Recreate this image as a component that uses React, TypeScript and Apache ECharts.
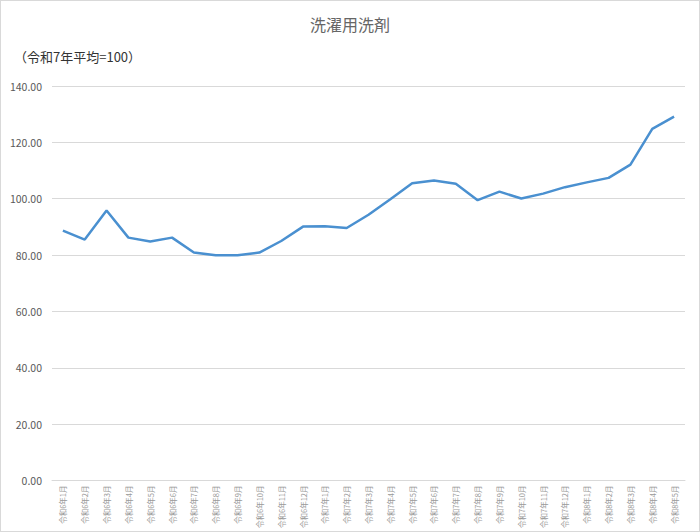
import React from 'react';
import * as echarts from 'echarts';

const TITLE = '洗濯用洗剤';
const UNIT_NOTE = '（令和7年平均=100）';

const categories: string[] = [
  '令和6年1月', '令和6年2月', '令和6年3月', '令和6年4月', '令和6年5月', '令和6年6月',
  '令和6年7月', '令和6年8月', '令和6年9月', '令和6年10月', '令和6年11月', '令和6年12月',
  '令和7年1月', '令和7年2月', '令和7年3月', '令和7年4月', '令和7年5月', '令和7年6月',
  '令和7年7月', '令和7年8月', '令和7年9月', '令和7年10月', '令和7年11月', '令和7年12月',
  '令和8年1月', '令和8年2月', '令和8年3月', '令和8年4月', '令和8年5月',
];

const indexValues: number[] = [
  88.7, 85.5, 95.8, 86.2, 84.8, 86.2,
  80.9, 79.9, 79.9, 80.9, 85.0, 90.1,
  90.2, 89.6, 94.3, 99.8, 105.5, 106.5,
  105.3, 99.5, 102.5, 100.1, 101.8, 104.1,
  105.8, 107.4, 112.1, 124.8, 129.1,
];

const yMin = 0;
const yMax = 140;
const yStep = 20;

const FONT = '"Noto Sans CJK JP", "Noto Sans", sans-serif';

export default function App() {
  const chartRef = React.useRef<HTMLDivElement>(null);

  React.useEffect(() => {
    if (!chartRef.current) return;
    const chart = echarts.init(chartRef.current, undefined, { renderer: 'svg' });

    chart.setOption({
      animation: false,
      textStyle: { fontFamily: FONT },
      title: [
        {
          text: TITLE,
          left: 'center',
          top: 10,
          textStyle: { fontSize: 16, fontWeight: 'normal', color: '#666666', fontFamily: FONT },
        },
        {
          text: UNIT_NOTE,
          left: 8,
          top: 44,
          textStyle: { fontSize: 13, fontWeight: 'normal', color: '#333333', fontFamily: FONT },
        },
      ],
      grid: { left: 51, right: 14, top: 85, bottom: 49, containLabel: false },
      xAxis: {
        type: 'category',
        data: categories,
        boundaryGap: true,
        axisLine: { show: true, lineStyle: { color: '#d9d9d9', width: 1 } },
        axisTick: { show: false },
        axisLabel: {
          rotate: 90,
          interval: 0,
          fontSize: 7.5,
          color: '#999999',
          margin: 5,
          fontFamily: FONT,
        },
      },
      yAxis: {
        type: 'value',
        min: yMin,
        max: yMax,
        interval: yStep,
        axisLine: { show: false },
        axisTick: { show: false },
        splitLine: { lineStyle: { color: '#d9d9d9', width: 1 } },
        axisLabel: {
          fontSize: 10.5,
          color: '#595959',
          margin: 10,
          formatter: (v: number) => v.toFixed(2),
          fontFamily: FONT,
        },
      },
      series: [
        {
          type: 'line',
          name: TITLE,
          data: indexValues,
          symbol: 'none',
          lineStyle: { color: '#4a90d0', width: 2.5 },
          itemStyle: { color: '#4a90d0' },
        },
      ],
    });

    return () => {
      chart.dispose();
    };
  }, []);

  return (
    <div
      style={{
        position: 'fixed',
        left: 0,
        top: 0,
        width: 700,
        height: 532,
        boxSizing: 'border-box',
        border: '1px solid #d9d9d9',
        background: '#ffffff',
      }}
    >
      <div ref={chartRef} style={{ width: 698, height: 530 }} />
    </div>
  );
}
